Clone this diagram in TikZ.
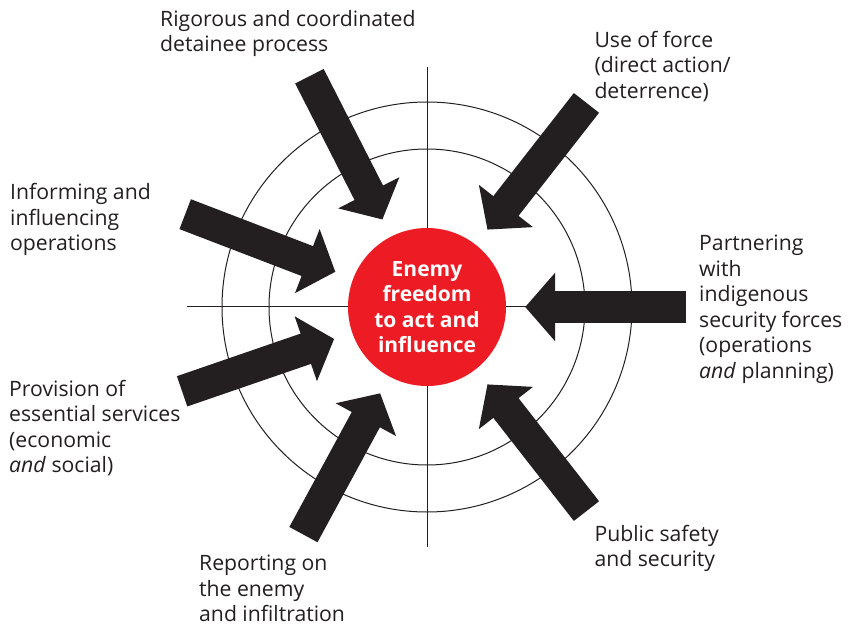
\documentclass[tikz,border=0pt]{standalone}
\usepackage{fontspec}
\setmainfont{Open Sans}
\usetikzlibrary{arrows.meta}
\definecolor{ink}{HTML}{231F20}
\definecolor{enemyred}{HTML}{ED1C24}
\tikzset{
  {ring/.style} ={draw=ink,line width=1pt},
  {push arrow/.style} ={draw=ink,line width=32pt,
                -{Triangle[length=30pt,width=67pt]},shorten >=19pt},
  {label text/.style} ={anchor=base west,inner sep=0,align=left,text=ink,
                font=\fontsize{21.2}{25.5}\selectfont},
  {enemy/.style} ={circle,fill=enemyred,minimum size=158pt,inner sep=0,
                text=white,align=center,
                font=\fontsize{21}{25.3}\selectfont\bfseries},
}

\begin{document}
\begin{tikzpicture}[x=1pt,y=1pt]
    \useasboundingbox (-427,307) rectangle (421,-319);
    % target rings and cross
    \draw[ring] (-240,0) -- (241,0);
    \draw[ring] (0,240) -- (0,-240);
    \draw[ring] (0,0) circle [radius=158pt];
    \draw[ring] (0,0) circle [radius=205pt];
    \node[enemy] (enemy) at (0,0) {Enemy\\ freedom\\ to act and\\ influence};
    % arrow tails
    \coordinate (detainee tail) at (117:259pt);
    \coordinate (force tail) at (52:259pt);
    \coordinate (partner tail) at (0:259pt);
    \coordinate (safety tail) at (-52:259pt);
    \coordinate (reporting tail) at (241.5:259pt);
    \coordinate (services tail) at (199:259pt);
    \coordinate (informing tail) at (159:259pt);
    \draw[push arrow] (detainee tail) -- (enemy);
    \draw[push arrow] (force tail) -- (enemy);
    \draw[push arrow] (partner tail) -- (enemy);
    \draw[push arrow] (safety tail) -- (enemy);
    \draw[push arrow] (reporting tail) -- (enemy);
    \draw[push arrow] (services tail) -- (enemy);
    \draw[push arrow] (informing tail) -- (enemy);
    % labels (placed at the baseline of their last line)
    \node[label text] (detainee) at (-267,255.3) {Rigorous and coordinated\\ detainee process};
    \node[label text] (force) at (167.3,208.7) {Use of force\\ (direct action/\\ deterrence)};
    \node[label text] (partner) at (272,-71.3) {Partnering\\ with\\ indigenous\\ security forces\\ (operations\\ \textit{and} planning)};
    \node[label text] (safety) at (167.3,-259.7) {Public safety\\ and security};
    \node[label text] (reporting) at (-228,-314.7) {Reporting on\\ the enemy\\ and infiltration};
    \node[label text] (services) at (-418,-165.7) {Provision of\\ essential services\\ (economic\\ \textit{and} social)};
    \node[label text] (informing) at (-417,56) {Informing and\\ influencing\\ operations};
\end{tikzpicture}
\end{document}
